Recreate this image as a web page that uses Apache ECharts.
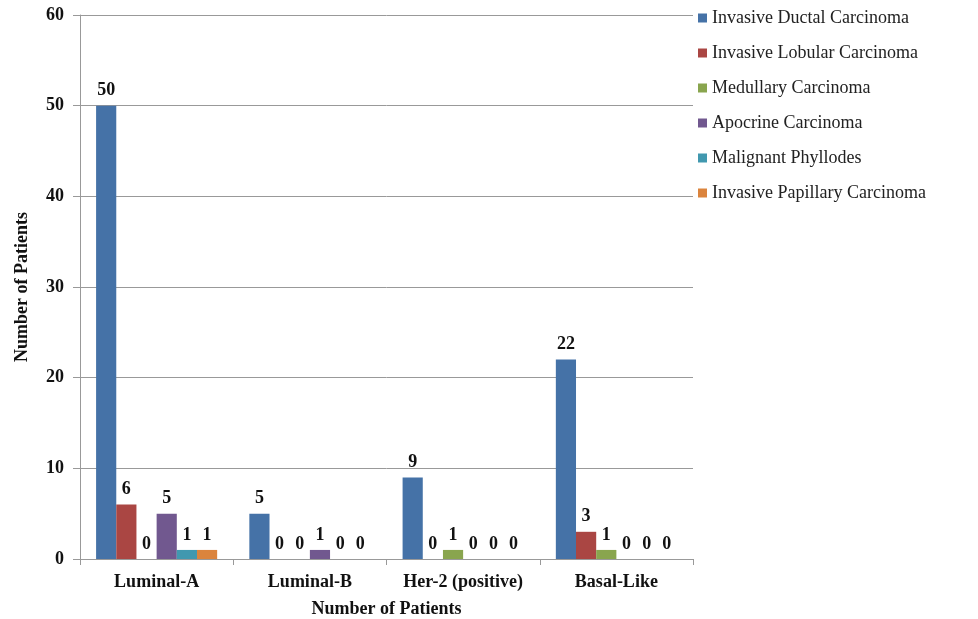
<!DOCTYPE html>
<html>
<head>
<meta charset="utf-8">
<script src="https://cdn.jsdelivr.net/npm/echarts@6/dist/echarts.min.js"></script>
<style>html,body{margin:0;padding:0;background:#fff}#c{width:978px;height:619px}</style>
</head>
<body>
<div id="c"></div>
<script>
const categories = ['Luminal-A', 'Luminal-B', 'Her-2 (positive)', 'Basal-Like'];
const seriesNames = ['Invasive Ductal Carcinoma', 'Invasive Lobular Carcinoma', 'Medullary Carcinoma', 'Apocrine Carcinoma', 'Malignant Phyllodes', 'Invasive Papillary Carcinoma'];
const ductal = [50, 5, 9, 22];
const lobular = [6, 0, 0, 3];
const medullary = [0, 0, 1, 1];
const apocrine = [5, 1, 0, 0];
const phyllodes = [1, 0, 0, 0];
const papillary = [1, 0, 0, 0];
const yTicks = [0, 10, 20, 30, 40, 50, 60];

const colors = ['#4572A7', '#AA4643', '#89A54E', '#71588F', '#4198AF', '#DB843D'];
const values = [ductal, lobular, medullary, apocrine, phyllodes, papillary];
const serif = '"Liberation Serif", "Times New Roman", serif';

const chart = echarts.init(document.getElementById('c'));
chart.setOption({
  animation: false,
  color: colors,
  grid: { left: 80, right: 285, top: 15, bottom: 60, containLabel: false, outerBoundsMode: 'none' },
  legend: {
    orient: 'vertical', left: 693, top: 4, itemWidth: 9, itemHeight: 9, itemGap: 17,
    icon: 'rect',
    textStyle: { fontFamily: serif, fontSize: 18, color: '#222' },
    data: seriesNames
  },
  xAxis: {
    type: 'category', data: categories,
    name: 'Number of Patients', nameLocation: 'middle', nameGap: 41,
    nameTextStyle: { fontFamily: serif, fontWeight: 'bold', fontSize: 18, color: '#111' },
    axisLine: { lineStyle: { color: '#999' } },
    axisTick: { show: true, length: 6, lineStyle: { color: '#999' } },
    axisLabel: { interval: 0, fontFamily: serif, fontWeight: 'bold', fontSize: 18, color: '#111', margin: 14 }
  },
  yAxis: {
    type: 'value', min: yTicks[0], max: yTicks[yTicks.length - 1], interval: 10,
    name: 'Number of Patients', nameLocation: 'middle', nameGap: 49, nameRotate: 90,
    nameTextStyle: { fontFamily: serif, fontWeight: 'bold', fontSize: 18, color: '#111' },
    axisLine: { show: true, lineStyle: { color: '#999' } },
    axisTick: { show: true, length: 7, lineStyle: { color: '#999' } },
    splitLine: { lineStyle: { color: '#999' } },
    axisLabel: { fontFamily: serif, fontWeight: 'bold', fontSize: 18, color: '#111', margin: 16 }
  },
  series: seriesNames.map((n, i) => ({
    name: n, type: 'bar', data: values[i],
    barGap: '0%', barCategoryGap: '21%',
    label: { show: true, position: 'top', distance: 6, fontFamily: serif, fontWeight: 'bold', fontSize: 18, color: '#111' }
  }))
});
</script>
</body>
</html>
